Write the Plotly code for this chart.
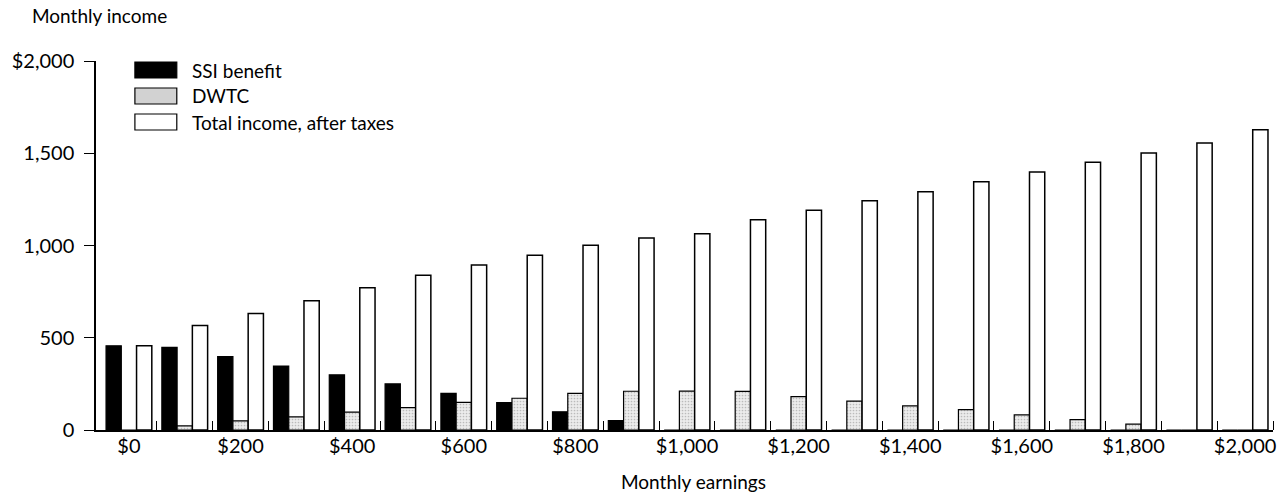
import plotly.graph_objects as go

# ---- data ----
earnings = [0, 100, 200, 300, 400, 500, 600, 700, 800, 900, 1000,
            1100, 1200, 1300, 1400, 1500, 1600, 1700, 1800, 1900, 2000]
ssi_benefit = [456, 448, 398, 347, 299, 250, 198, 149, 99, 51, 0,
               0, 0, 0, 0, 0, 0, 0, 0, 0, 0]
dwtc = [0, 22, 49, 71, 97, 121, 150, 172, 199, 210, 211,
        209, 181, 157, 131, 110, 82, 56, 32, 0, 0]
total_income = [456, 567, 631, 701, 771, 839, 894, 947, 1001, 1040, 1064,
                1140, 1191, 1243, 1292, 1346, 1398, 1451, 1502, 1556, 1628]

series_names = ["SSI benefit", "DWTC", "Total income, after taxes"]
x_tick_values = [e for e in earnings if e % 200 == 0]
x_tick_labels = ["$" + format(e, ",") for e in x_tick_values]
y_tick_values = [0, 500, 1000, 1500, 2000]
y_tick_labels = ["0", "500", "1,000", "1,500", "$2,000"]

FONT = "Lato, 'Open Sans', sans-serif"
step = earnings[1] - earnings[0]
boundaries = [e + step / 2 for e in earnings]

fig = go.Figure()
fig.add_trace(go.Bar(x=earnings, y=ssi_benefit, name=series_names[0],
                     marker=dict(color="black", line=dict(color="black", width=1.2)),
                     showlegend=False))
fig.add_trace(go.Bar(x=earnings, y=dwtc, name=series_names[1],
                     marker=dict(color="#dcdcdc",
                                 pattern=dict(shape=".", fgcolor="#8a8a8a", bgcolor="#ececec",
                                              size=3, solidity=0.25),
                                 line=dict(color="black", width=1.2)),
                     showlegend=False))
fig.add_trace(go.Bar(x=earnings, y=total_income, name=series_names[2],
                     marker=dict(color="white", line=dict(color="black", width=1.5)),
                     showlegend=False))

# custom legend (large swatches like the original)
PL, PR, PT, PB = 96, 1276, 61, 430
W, H = PR - PL, PB - PT
def px(xp):
    return (xp - PL) / W
def py(yp):
    return (PB - yp) / H

swatch_fills = ["black", "#d2d2d2", "white"]
row_y = [70, 96, 122]
for name, fill, yc in zip(series_names, swatch_fills, row_y):
    fig.add_shape(type="rect", xref="paper", yref="paper",
                  x0=px(135), x1=px(177), y0=py(yc + 8), y1=py(yc - 8),
                  fillcolor=fill, line=dict(color="black", width=1.2))
    fig.add_annotation(text=name, xref="paper", yref="paper", x=px(190), y=py(yc),
                       xanchor="left", yanchor="middle", showarrow=False,
                       font=dict(family=FONT, size=19, color="black"))

fig.add_annotation(text="Monthly income", xref="paper", yref="paper",
                   x=px(30), y=py(16), xanchor="left", yanchor="middle", showarrow=False,
                   font=dict(family=FONT, size=19, color="black"))
fig.add_annotation(text="Monthly earnings", xref="paper", yref="paper",
                   x=px(695), y=py(482), xanchor="center", yanchor="middle", showarrow=False,
                   font=dict(family=FONT, size=19, color="black"))

fig.update_layout(
    width=1281, height=498,
    margin=dict(l=PL, r=1281 - PR, t=PT, b=498 - PB),
    paper_bgcolor="white", plot_bgcolor="white",
    barmode="group", bargap=0.18, bargroupgap=0,
    font=dict(family=FONT, size=20, color="black"),
    showlegend=False,
)
fig.update_xaxes(
    range=[earnings[0] - 59, earnings[-1] + step / 2],
    tickmode="array", tickvals=x_tick_values, ticktext=x_tick_labels,
    ticks="", showgrid=False, zeroline=False,
    ticklabelstandoff=-3,
    showline=True, linecolor="black", linewidth=1.5,
    tickfont=dict(family=FONT, size=20, color="black"),
    minor=dict(tickmode="array", tickvals=boundaries, ticks="inside",
               ticklen=9, tickwidth=1.3, tickcolor="black", showgrid=False),
)
fig.update_yaxes(
    range=[0, 2000],
    tickmode="array", tickvals=y_tick_values, ticktext=y_tick_labels,
    ticks="outside", ticklen=10, tickwidth=1.3, tickcolor="black",
    ticklabelstandoff=6,
    showgrid=False, zeroline=False,
    showline=True, linecolor="black", linewidth=1.5,
    tickfont=dict(family=FONT, size=20, color="black"),
)

fig.write_html("out.html", config={"displayModeBar": False},
               post_script="document.body.style.margin='0';document.body.style.overflow='hidden';")
